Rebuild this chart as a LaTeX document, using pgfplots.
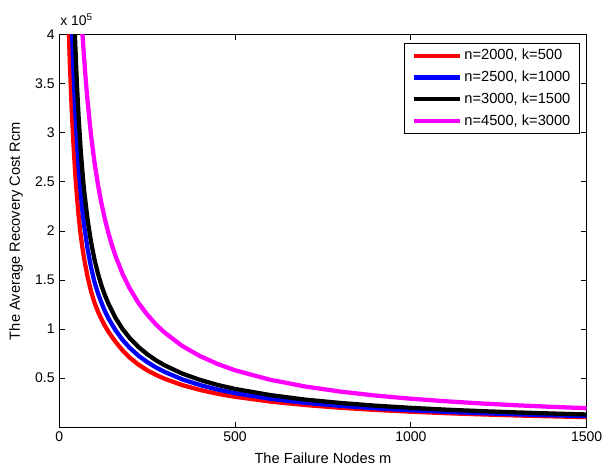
\documentclass[border=0pt]{standalone}
\usepackage{fontspec}
\setmainfont{Liberation Sans}
\usepackage{pgfplots}
\pgfplotsset{compat=1.18}
\usetikzlibrary{calc}

\definecolor{cRed}{RGB}{255,0,0}
\definecolor{cBlue}{RGB}{0,0,255}
\definecolor{cMag}{RGB}{255,0,255}

\begin{document}
\begin{tikzpicture}
\begin{axis}[
  scale only axis,
  width=395.6pt, height=294.5pt,
  xmin=0, xmax=1500, ymin=0, ymax=4,
  xtick={0,500,1000,1500},
  xticklabels={0,500,1000,1500},
  ytick={0.5,1,1.5,2,2.5,3,3.5,4},
  yticklabels={0.5,1,1.5,2,2.5,3,3.5,4},
  tick align=inside,
  major tick length=4pt,
  axis line style={line width=0.6pt},
  tick style={line width=0.6pt, black},
  ticklabel style={font=\fontsize{10.5}{12}\selectfont},
  /pgf/number format/assume math mode=true,
  xlabel={The Failure Nodes m},
  ylabel={The Average Recovery Cost Rcm},
  label style={font=\fontsize{11}{13}\selectfont},
  xlabel style={at={(axis description cs:0.5,-0.078)}, anchor=center},
  ylabel style={at={(axis description cs:-0.082,0.5)}, anchor=center, rotate=0},
  legend cell align=left,
  legend style={at={(0.9875,0.9785)}, anchor=north east,
    draw=black, line width=0.5pt,
    font=\fontsize{11}{13}\selectfont,
    inner xsep=5.5pt, inner ysep=4.3pt,
    row sep=6.3pt, column sep=0pt,
    nodes={text height=8pt, text depth=2pt, inner ysep=0pt, inner xsep=1.5pt}},
  legend image code/.code={\draw[#1] (0pt,0pt) -- (35pt,0pt);},
  every axis plot/.append style={line width=3.2pt, line join=round},
]
% n=2000, k=500
\addplot[cRed] coordinates {
 (24,4.42) (26,4.154) (30,3.70) (35,3.257) (40,2.90) (45,2.60) (50,2.36)
 (55,2.155) (60,1.983) (65,1.846) (70,1.729) (80,1.5375) (90,1.389)
 (100,1.27) (110,1.177) (120,1.10) (130,1.031) (140,0.971) (160,0.869)
 (180,0.783) (200,0.71) (225,0.638) (250,0.58) (275,0.533) (300,0.493)
 (350,0.429) (400,0.38) (450,0.341) (500,0.31) (600,0.262) (700,0.226)
 (800,0.198) (900,0.176) (1000,0.158) (1100,0.143) (1200,0.131)
 (1300,0.12) (1400,0.111) (1500,0.103)};
\addlegendentry{n=2000, k=500}
% n=2500, k=1000
\addplot[cBlue] coordinates {
 (33,4.424) (35,4.171) (37,3.946) (40,3.65) (45,3.244) (50,2.92)
 (55,2.645) (60,2.417) (65,2.231) (70,2.071) (80,1.825) (90,1.633)
 (100,1.48) (110,1.364) (120,1.267) (130,1.181) (140,1.107) (160,0.9875)
 (180,0.889) (200,0.81) (225,0.729) (250,0.664) (275,0.609) (300,0.563)
 (350,0.487) (400,0.43) (450,0.384) (500,0.347) (600,0.29) (700,0.2486)
 (800,0.2175) (900,0.193) (1000,0.173) (1100,0.157) (1200,0.143)
 (1300,0.1315) (1400,0.1218) (1500,0.1133)};
\addlegendentry{n=2500, k=1000}
% n=3000, k=1500
\addplot[black] coordinates {
 (40,4.475) (42,4.238) (45,3.933) (50,3.50) (55,3.155) (60,2.867)
 (65,2.631) (70,2.429) (80,2.125) (90,1.892) (100,1.71) (110,1.564)
 (120,1.442) (130,1.342) (140,1.257) (160,1.1125) (180,1.0) (200,0.91)
 (225,0.818) (250,0.744) (275,0.682) (300,0.63) (350,0.546) (400,0.4825)
 (450,0.431) (500,0.39) (600,0.3275) (700,0.281) (800,0.247) (900,0.2194)
 (1000,0.1975) (1100,0.179) (1200,0.164) (1300,0.151) (1400,0.1398)
 (1500,0.13)};
\addlegendentry{n=3000, k=1500}
% n=4500, k=3000
\addplot[cMag] coordinates {
 (58,4.509) (60,4.367) (63,4.175) (66,4.0) (70,3.786) (75,3.547)
 (80,3.3375) (90,2.983) (100,2.70) (110,2.47) (120,2.278) (130,2.115)
 (140,1.974) (150,1.851) (160,1.744) (180,1.561) (200,1.415) (225,1.267)
 (250,1.148) (275,1.047) (300,0.963) (350,0.827) (400,0.725) (450,0.6446)
 (500,0.58) (600,0.4835) (700,0.4145) (800,0.3628) (900,0.3226)
 (1000,0.2905) (1100,0.2643) (1200,0.2423) (1300,0.2237) (1400,0.2077)
 (1500,0.194)};
\addlegendentry{n=4500, k=3000}
\end{axis}
% axis multiplier above the y axis
\node[anchor=base west, font=\fontsize{10.5}{12}\selectfont, inner sep=0pt]
  at ([xshift=0.5pt,yshift=6.5pt]current axis.north west) {x 10\textsuperscript{5}};
\pgfresetboundingbox
\path[use as bounding box] ($(current axis.south west)+(-44.5pt,-33.5pt)$)
  rectangle ($(current axis.north east)+(13pt,26pt)$);
\end{tikzpicture}
\end{document}
